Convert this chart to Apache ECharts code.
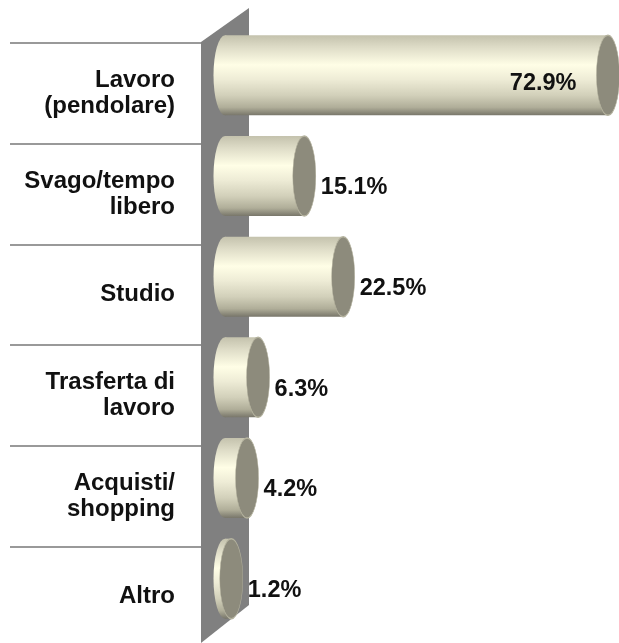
<!DOCTYPE html>
<html>
<head>
<meta charset="utf-8">
<title>Motivo dello spostamento</title>
<script src="https://cdn.jsdelivr.net/npm/echarts@6/dist/echarts.min.js"></script>
<style>
    html, body { margin: 0; padding: 0; background: #fff; }
    #main { width: 619px; height: 643px; }
</style>
</head>
<body>
<div id="main"></div>
<script>
var categories = ['Lavoro\n(pendolare)', 'Svago/tempo\nlibero', 'Studio', 'Trasferta di\nlavoro', 'Acquisti/\nshopping', 'Altro'];
var values = [72.9, 15.1, 22.5, 6.3, 4.2, 1.2];
var valueLabels = ['72.9%', '15.1%', '22.5%', '6.3%', '4.2%', '1.2%'];

var font = "'Liberation Sans', Arial, sans-serif";

// gradiente del corpo del cilindro (dall'alto in basso)
function bodyGradient() {
    return new echarts.graphic.LinearGradient(0, 0, 0, 1, [
        { offset: 0, color: '#c4c2ad' },
        { offset: 0.15, color: '#dedcc7' },
        { offset: 0.37, color: '#fffee6' },
        { offset: 0.55, color: '#eeecd6' },
        { offset: 0.75, color: '#d2d0ba' },
        { offset: 0.9, color: '#b0ae99' },
        { offset: 1, color: '#78766a' }
    ]);
}

function renderCylinder(params, api) {
    var v = api.value(0);
    var idx = api.value(1);
    var p0 = api.coord([0, idx]);
    var p1 = api.coord([v, idx]);
    var cy = p0[1] - 18;   // spostamento per l'effetto 3D
    var ry = 40, rx = 11.5;
    var x0 = p0[0], x1 = p1[0];

    var children = [
        {   // lato sinistro curvo
            type: 'circle',
            x: x0, y: cy, scaleX: rx / ry,
            shape: { cx: 0, cy: 0, r: ry },
            style: { fill: bodyGradient() }
        },
        {
            type: 'rect',
            shape: { x: x0, y: cy - ry, width: x1 - x0, height: ry * 2 },
            style: { fill: bodyGradient() }
        },
        {   // tappo destro
            type: 'circle',
            x: x1, y: cy, scaleX: rx / ry,
            shape: { cx: 0, cy: 0, r: ry },
            style: { fill: '#8d8b7c', stroke: '#b4b29e', lineWidth: 1.5 }
        }
    ];

    var inside = v > 50;
    children.push({
        type: 'text',
        x: inside ? x1 - rx - 20 : x1 + rx + 5,
        y: inside ? cy + 8 : cy + 12,
        style: {
            text: valueLabels[params.dataIndex],
            fill: '#111',
            font: 'bold 23.5px ' + font,
            align: inside ? 'right' : 'left',
            verticalAlign: 'middle'
        }
    });

    return { type: 'group', children: children };
}

var myChart = echarts.init(document.getElementById('main'));

var seriesData = [];
for (var i = 0; i < values.length; i++) {
    seriesData.push([values[i], i]);
}

option = {
    backgroundColor: '#fff',
    animation: false,
    grid: {
        left: 225,
        right: 0,
        top: 43,
        bottom: -4,
        outerBoundsMode: 'none'
    },
    xAxis: {
        type: 'value',
        min: 0,
        max: 75,
        show: false
    },
    yAxis: {
        type: 'category',
        inverse: true,
        z: 0,
        data: categories,
        axisLine: { show: false },
        axisTick: {
            show: true,
            alignWithLabel: false,
            interval: 0,
            length: 215,
            lineStyle: { color: '#999', width: 2 }
        },
        axisLabel: {
            margin: 50,
            interval: 0,
            color: '#111',
            fontSize: 24,
            fontWeight: 'bold',
            fontFamily: font,
            lineHeight: 26,
            align: 'right'
        },
        splitLine: { show: false }
    },
    graphic: [
        {   // parete grigia
            type: 'polygon',
            z: 1,
            shape: { points: [[201, 42], [249, 8], [249, 605], [201, 643]] },
            style: { fill: '#808080' }
        }
    ],
    series: [{
        type: 'custom',
        z: 5,
        renderItem: renderCylinder,
        encode: { x: 0, y: 1 },
        data: seriesData
    }]
};
myChart.setOption(option);
</script>
</body>
</html>
